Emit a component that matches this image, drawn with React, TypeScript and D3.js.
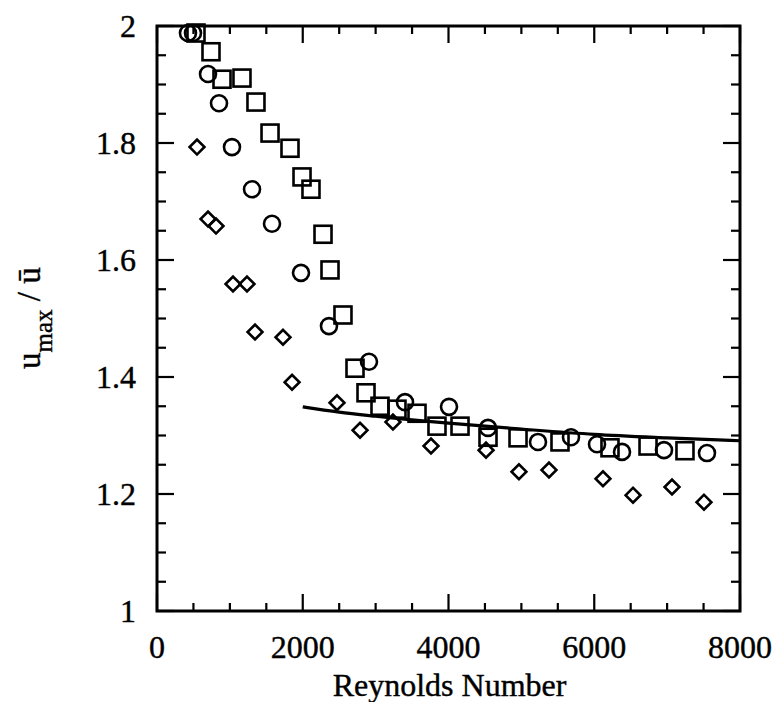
import React, { useEffect, useRef } from 'react';
import * as d3 from 'd3';

// readings from the figure: [Reynolds number, umax / ubar]
const circles: [number, number][] = [
  [425, 1.988], [494, 1.988], [700, 1.918], [851, 1.868], [1029, 1.793],
  [1304, 1.721], [1578, 1.662], [1976, 1.578], [2360, 1.487], [2909, 1.426],
  [3403, 1.357], [4007, 1.349], [4542, 1.313], [5228, 1.289], [5681, 1.297],
  [6038, 1.285], [6381, 1.272], [6957, 1.275], [7547, 1.270],
];

const squares: [number, number][] = [
  [535, 1.988], [741, 1.956], [892, 1.909], [1166, 1.911], [1358, 1.870],
  [1551, 1.817], [1825, 1.791], [1990, 1.742], [2113, 1.721], [2278, 1.644],
  [2374, 1.583], [2552, 1.506], [2717, 1.415], [2868, 1.373], [3060, 1.350],
  [3293, 1.345], [3568, 1.338], [3842, 1.316], [4158, 1.316], [4542, 1.297],
  [4954, 1.296], [5530, 1.289], [6216, 1.279], [6738, 1.282], [7245, 1.274],
];

const diamonds: [number, number][] = [
  [549, 1.793], [700, 1.670], [810, 1.658], [1043, 1.559], [1235, 1.559],
  [1345, 1.477], [1729, 1.468], [1853, 1.391], [2470, 1.356], [2786, 1.309],
  [3238, 1.323], [3760, 1.282], [4515, 1.275], [4967, 1.238], [5379, 1.241],
  [6120, 1.226], [6532, 1.198], [7067, 1.212], [7506, 1.186],
];

// turbulent correlation curve
const curve: [number, number][] = [
  [2000, 1.349], [2500, 1.340], [3000, 1.333], [4000, 1.321],
  [5000, 1.311], [6000, 1.302], [7000, 1.296], [8000, 1.291],
];

const xTicks = [0, 2000, 4000, 6000, 8000];
const yTicks = [1, 1.2, 1.4, 1.6, 1.8, 2];

const W = 775;
const H = 702;

const App = () => {
  const svgRef = useRef<SVGSVGElement>(null);

  useEffect(() => {
    const svg = d3.select(svgRef.current);
    svg.selectAll('*').remove();

    const left = 157, right = 740, top = 26, bottom = 611;
    const x = d3.scaleLinear().domain([0, 8000]).range([left, right]);
    const y = d3.scaleLinear().domain([1, 2]).range([bottom, top]);

    const font = '"Liberation Serif", "Times New Roman", serif';
    const ink = '#000';

    const g = svg.append('g');

    // ticks on all four sides, pointing inward
    const minorX = d3.range(0, 8001, 500);
    const minorY = d3.range(1, 2.0001, 0.05);
    const isMajorX = (v: number) => v % 2000 === 0;
    const isMajorY = (v: number) => Math.abs(Math.round(v * 5) - v * 5) < 1e-6;

    minorX.forEach(v => {
      const len = isMajorX(v) ? 17 : 8;
      g.append('line').attr('x1', x(v)).attr('x2', x(v)).attr('y1', bottom).attr('y2', bottom - len)
        .attr('stroke', ink).attr('stroke-width', 2.2);
      g.append('line').attr('x1', x(v)).attr('x2', x(v)).attr('y1', top).attr('y2', top + len)
        .attr('stroke', ink).attr('stroke-width', 2.2);
    });
    minorY.forEach(v => {
      const len = isMajorY(v) ? 17 : 9;
      g.append('line').attr('x1', left).attr('x2', left + len).attr('y1', y(v)).attr('y2', y(v))
        .attr('stroke', ink).attr('stroke-width', 2.2);
      g.append('line').attr('x1', right).attr('x2', right - len).attr('y1', y(v)).attr('y2', y(v))
        .attr('stroke', ink).attr('stroke-width', 2.2);
    });

    g.append('rect')
      .attr('x', left).attr('y', top)
      .attr('width', right - left).attr('height', bottom - top)
      .attr('fill', 'none').attr('stroke', ink).attr('stroke-width', 3);

    // tick labels
    g.selectAll('.xt').data(xTicks).join('text')
      .attr('x', d => x(d)).attr('y', 658)
      .attr('text-anchor', 'middle')
      .style('font-family', font).style('font-size', '32px')
      .style('stroke', ink).style('stroke-width', 0.4)
      .text(d => String(d));

    g.selectAll('.yt').data(yTicks).join('text')
      .attr('x', 136).attr('y', d => y(d) + 11)
      .attr('text-anchor', 'end')
      .style('font-family', font).style('font-size', '32px')
      .style('stroke', ink).style('stroke-width', 0.4)
      .text(d => (d === 1 || d === 2 ? String(d) : d.toFixed(1)));

    g.append('text')
      .attr('x', (left + right) / 2 + 1).attr('y', 696)
      .attr('text-anchor', 'middle')
      .style('font-family', font).style('font-size', '32px')
      .style('stroke', ink).style('stroke-width', 0.4)
      .text('Reynolds Number');

    const yl = g.append('text')
      .attr('transform', 'translate(40, 369) rotate(-90)')
      .attr('text-anchor', 'start')
      .style('font-family', font).style('font-size', '33px')
      .style('stroke', ink).style('stroke-width', 0.4);
    yl.append('tspan').text('u');
    yl.append('tspan').attr('dy', 12).style('font-size', '25px').text('max');
    yl.append('tspan').attr('dy', -12).text('\u00a0/ \u016b');

    // correlation line
    const line = d3.line<[number, number]>()
      .x(d => x(d[0])).y(d => y(d[1]))
      .curve(d3.curveMonotoneX);
    g.append('path').datum(curve)
      .attr('d', line)
      .attr('fill', 'none').attr('stroke', ink).attr('stroke-width', 3.2);

    // markers
    const sw = 2.6;
    g.selectAll('.sq').data(squares).join('rect')
      .attr('x', d => x(d[0]) - 8.5).attr('y', d => y(d[1]) - 8.5)
      .attr('width', 17).attr('height', 17)
      .attr('fill', 'none').attr('stroke', ink).attr('stroke-width', sw);

    g.selectAll('.ci').data(circles).join('circle')
      .attr('cx', d => x(d[0])).attr('cy', d => y(d[1])).attr('r', 8)
      .attr('fill', 'none').attr('stroke', ink).attr('stroke-width', sw);

    const dsym = d3.symbol().type(d3.symbolSquare).size(110);
    g.selectAll('.di').data(diamonds).join('path')
      .attr('d', dsym)
      .attr('transform', d => `translate(${x(d[0])},${y(d[1])}) rotate(45)`)
      .attr('fill', 'none').attr('stroke', ink).attr('stroke-width', sw);
  }, []);

  return (
    <svg ref={svgRef} width={W} height={H}
      style={{ position: 'absolute', left: 0, top: 0, background: '#fff' }} />
  );
};

export default App;
